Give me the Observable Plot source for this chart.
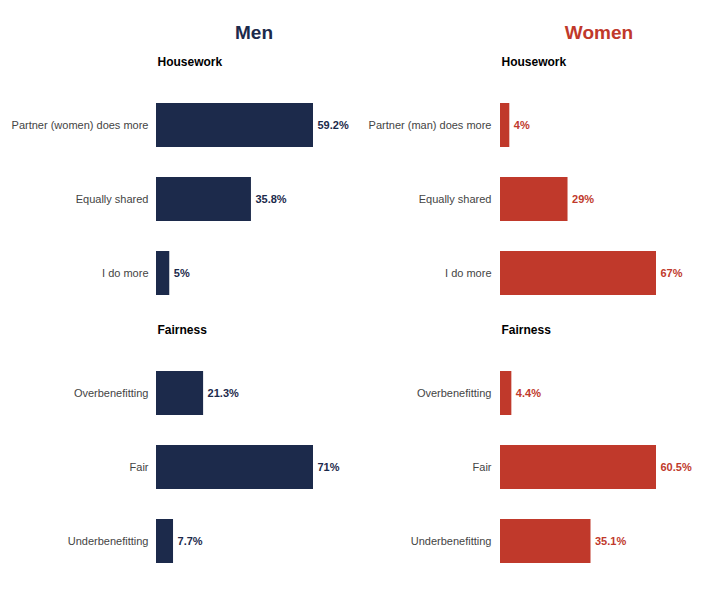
<!DOCTYPE html>
<html>
<head>
<meta charset="utf-8">
<script src="https://cdn.jsdelivr.net/npm/d3@7"></script>
<script src="https://cdn.jsdelivr.net/npm/@observablehq/plot@0.6"></script>
<style>
  html, body { margin: 0; padding: 0; background: #fff; }
  #root { position: relative; width: 723px; height: 603px; font-family: "Liberation Sans", Arial, sans-serif; }
  .title { position: absolute; top: 20px; font-size: 19px; font-weight: bold; width: 200px; text-align: center; line-height: 26px; }
  .panel { position: absolute; }
</style>
</head>
<body>
<div id="root"></div>
<script>
const menHouseworkCats = ["Partner (women) does more", "Equally shared", "I do more"];
const menHouseworkValues = [59.2, 35.8, 5];
const womenHouseworkCats = ["Partner (man) does more", "Equally shared", "I do more"];
const womenHouseworkValues = [4, 29, 67];
const fairnessCats = ["Overbenefitting", "Fair", "Underbenefitting"];
const menFairnessValues = [21.3, 71, 7.7];
const womenFairnessValues = [4.4, 60.5, 35.1];

const NAVY = "#1c2a4b";
const RED = "#c0392b";

const root = document.getElementById("root");

function addTitle(text, color, cx) {
  const d = document.createElement("div");
  d.className = "title";
  d.textContent = text;
  d.style.color = color;
  d.style.left = (cx - 100) + "px";
  root.appendChild(d);
}
addTitle("Men", NAVY, 254);
addTitle("Women", RED, 599);

function panel(title, cats, values, color, left, top, width, marginRight, tickPadding) {
  const data = cats.map((c, i) => ({cat: c, value: values[i]}));
  const chart = Plot.plot({
    width: width,
    height: 280,
    marginLeft: 156,
    marginRight: marginRight,
    marginTop: 48,
    marginBottom: 9,
    style: {fontFamily: "Liberation Sans, Arial, sans-serif", fontSize: "11px", background: "transparent"},
    x: {domain: [0, d3.max(values)], axis: null},
    y: {domain: cats, paddingInner: 0.41, paddingOuter: 0.205, label: null},
    marks: [
      Plot.axisY({tickSize: 0, tickPadding: tickPadding, fill: "#444", fontSize: 11}),
      Plot.barX(data, {y: "cat", x: "value", fill: color}),
      Plot.text(data, {y: "cat", x: "value", text: d => d.value + "%", textAnchor: "start", dx: 4, fill: color, fontWeight: "bold", fontSize: 11}),
      Plot.text([title], {frameAnchor: "top-left", text: d => d, dy: -30, dx: 1, textAnchor: "start", fill: "#000", fontWeight: "bold", fontSize: 12})
    ]
  });
  const wrap = document.createElement("div");
  wrap.className = "panel";
  wrap.style.left = left + "px";
  wrap.style.top = top + "px";
  wrap.appendChild(chart);
  root.appendChild(wrap);
}

panel("Housework", menHouseworkCats, menHouseworkValues, NAVY, 0, 39, 361, 48, 8);
panel("Fairness", fairnessCats, menFairnessValues, NAVY, 0, 307, 361, 48, 8);
panel("Housework", womenHouseworkCats, womenHouseworkValues, RED, 344, 39, 379, 67, 9);
panel("Fairness", fairnessCats, womenFairnessValues, RED, 344, 307, 379, 67, 9);
</script>
</body>
</html>
